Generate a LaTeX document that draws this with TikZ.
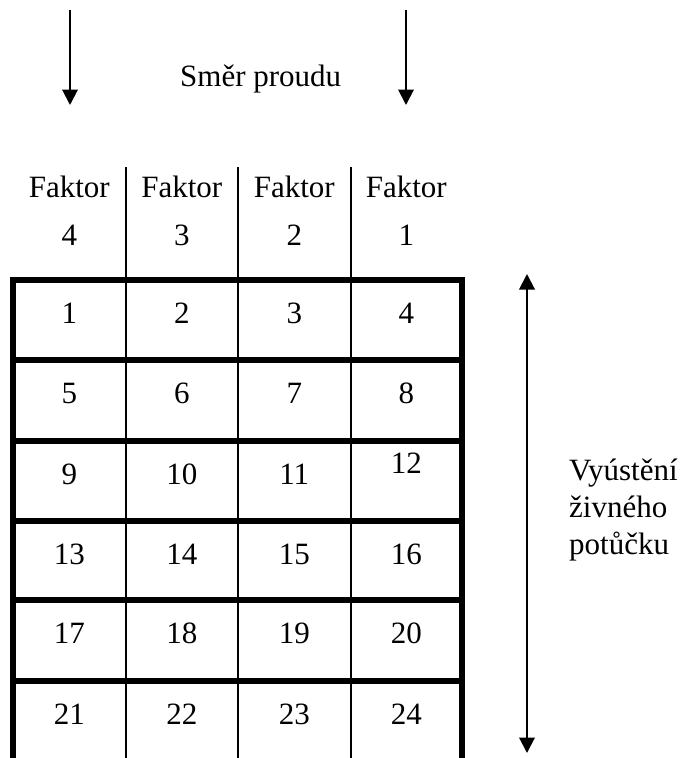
\documentclass[tikz,border=0pt]{standalone}
\usepackage{fontspec}
\setmainfont{Liberation Serif}
\usetikzlibrary{arrows.meta}

\tikzset{
  label text/.style={inner sep=0pt, anchor=base, font=\fontsize{31}{37}\selectfont},
  thin rule/.style={line width=2pt},
  thick rule/.style={line width=5.5pt},
  flow arrow/.style={line width=2pt, -{Triangle[width=15.5pt,length=15.5pt]}},
  span arrow/.style={line width=2pt, {Triangle[width=15.5pt,length=15.5pt]}-{Triangle[width=15.5pt,length=15.5pt]}},
}

\begin{document}
\begin{tikzpicture}[x=1pt, y=-1pt]
  \useasboundingbox (0,0) rectangle (688,758);

  % column borders
  \def\colA{13} \def\colB{125.5} \def\colC{238} \def\colD{350.5} \def\colE{462}

  % flow direction arrows
  \coordinate (fl1) at (70,10);   \coordinate (fl2) at (70,105);
  \coordinate (fr1) at (406,10);  \coordinate (fr2) at (406,105);
  \draw[flow arrow] (fl1) -- (fl2);
  \draw[flow arrow] (fr1) -- (fr2);
  \node[label text, anchor=base west] (flow) at (180,86) {Směr proudu};

  % header column separators
  \foreach \x in {\colB,\colC,\colD}
    \draw[thin rule] (\x,167) -- (\x,760);

  % header texts
  \foreach \x/\n [count=\i] in {69.3/4, 181.8/3, 294.3/2, 406.3/1} {
    \node[label text] (fak\i) at (\x,197) {Faktor};
    \node[label text] (fnum\i) at (\x,245) {\n};
  }

  % thick outer frame and row separators
  \draw[thick rule, line join=miter] (\colA,760) -- (\colA,280) -- (\colE,280) -- (\colE,760);
  \foreach \y in {360,441,521,600,681}
    \draw[thick rule] (\colA,\y) -- (\colE,\y);

  % cell numbers
  \foreach \y [count=\r from 0] in {280,360,441,521,600,681} {
    \foreach \x [count=\c] in {69.3,181.8,294.3,406.3} {
      \pgfmathtruncatemacro{\num}{4*\r+\c}
      \ifnum\num=12
        \node[label text] (cell\num) at (\x,\y+32) {\num};
      \else
        \node[label text] (cell\num) at (\x,\y+43) {\num};
      \fi
    }
  }

  % outlet extent arrow and label
  \coordinate (vt) at (527,274);
  \coordinate (vb) at (527,753);
  \draw[span arrow] (vt) -- (vb);
  \node[label text, anchor=base west] (out1) at (569,480) {Vyústění};
  \node[label text, anchor=base west] (out2) at (569,517) {živného};
  \node[label text, anchor=base west] (out3) at (569,554) {potůčku};
\end{tikzpicture}
\end{document}
